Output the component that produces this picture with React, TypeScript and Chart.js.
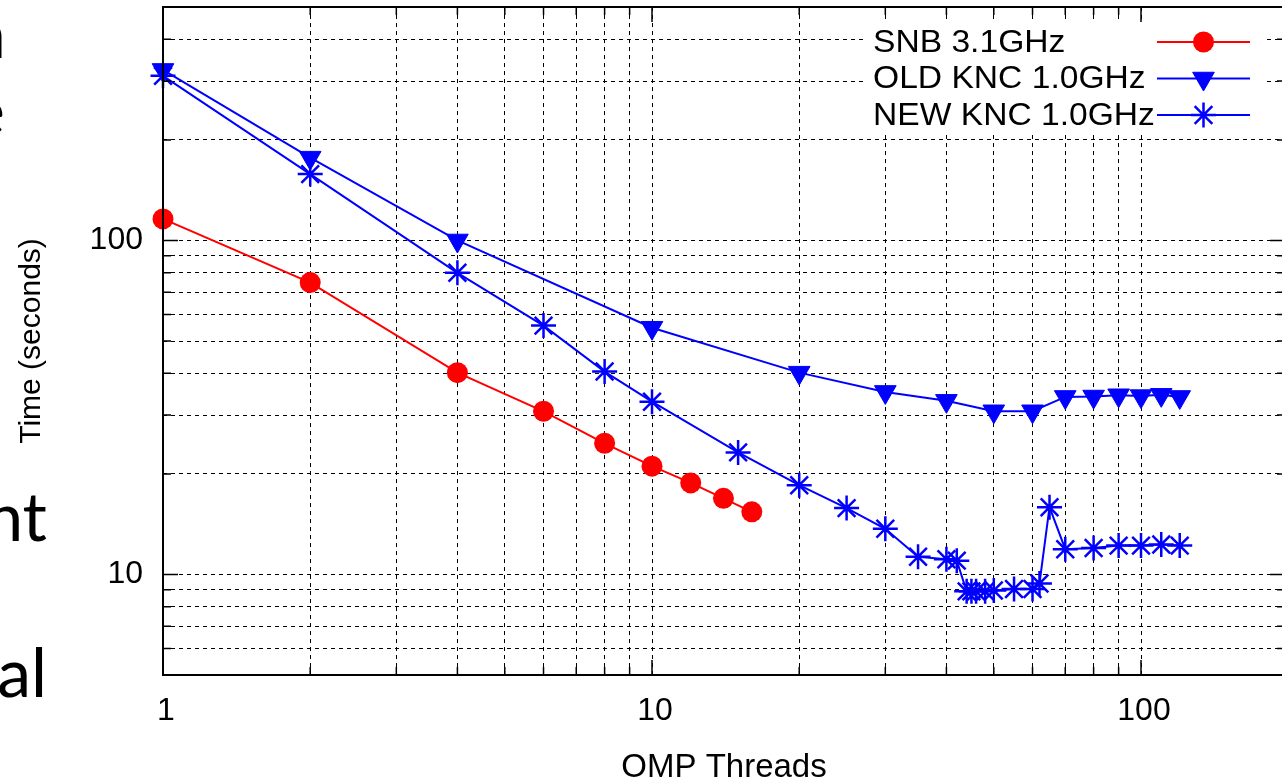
import React, { useEffect, useRef } from 'react';
import { Chart, registerables, PointElement } from 'chart.js';

Chart.register(...registerables);

// ---------- data ----------
const snbThreads = [1, 2, 4, 6, 8, 10, 12, 14, 16];
const snbTime = [116, 74.8, 40.2, 30.8, 24.7, 21.1, 18.8, 16.9, 15.4];

const oldThreads = [1, 2, 4, 10, 20, 30, 40, 50, 60, 70, 80, 90, 100, 110, 120];
const oldTime = [324, 177, 100, 54.8, 40.2, 35.2, 33.1, 30.8, 30.8, 34.0, 34.1, 34.4, 34.2, 34.5, 34.0];

const newThreads = [1, 2, 4, 6, 8, 10, 15, 20, 25, 30, 35, 40, 42, 44, 45, 46, 48, 50, 55, 60, 62, 65, 70, 80, 90, 100, 110, 120];
const newTime = [311, 158, 80, 55.6, 40.5, 32.9, 23.2, 18.5, 15.8, 13.7, 11.3, 11.1, 11.0, 8.9, 8.9, 8.9, 8.9, 8.95, 9.05, 9.05, 9.4, 15.9, 11.9, 12.0, 12.2, 12.2, 12.3, 12.2];

const seriesLabels = ['SNB 3.1GHz', 'OLD KNC 1.0GHz', 'NEW KNC 1.0GHz'];

const xMin = 1;
const xMax = 197;
const yMin = 5;
const yMax = 500;
const xTickValues = [1, 2, 3, 4, 5, 6, 7, 8, 9, 10, 20, 30, 40, 50, 60, 70, 80, 90, 100, 200];
const yTickValues = [5, 6, 7, 8, 9, 10, 20, 30, 40, 50, 60, 70, 80, 90, 100, 200, 300, 400, 500];
const xLabelValues = [1, 10, 100];
const yLabelValues = [10, 100];
const xTitle = 'OMP Threads';
const yTitle = 'Time (seconds)';

const slideFragments = ['n', 'e', 'nt', 'al'];

// ---------- style ----------
const RED = '#ff0000';
const BLUE = '#0000ff';
const FONT = "'Liberation Sans', Arial, sans-serif";

const toPoints = (xs: number[], ys: number[]) => xs.map((x, i) => ({ x, y: ys[i] }));

const zeroPadding = (scale: any) => {
  scale.paddingTop = 0;
  scale.paddingBottom = 0;
  scale.paddingLeft = 0;
  scale.paddingRight = 0;
};

const frameAndLegend = {
  id: 'frameAndLegend',
  afterDraw(chart: any) {
    const { ctx, chartArea } = chart;
    const { left, right, top, bottom } = chartArea;
    const xs = chart.scales.x;
    const ys = chart.scales.y;
    ctx.save();

    // legend background (covers grid)
    ctx.fillStyle = '#ffffff';
    ctx.fillRect(867, 23, 398, 112);

    // inward tick marks on all four sides
    ctx.strokeStyle = '#000000';
    ctx.setLineDash([]);
    ctx.lineWidth = 1.5;
    ctx.beginPath();
    xs.ticks.forEach((t: any) => {
      const len = xLabelValues.includes(t.value) ? 15 : 8;
      const px = xs.getPixelForValue(t.value);
      ctx.moveTo(px, bottom);
      ctx.lineTo(px, bottom - len);
      ctx.moveTo(px, top);
      ctx.lineTo(px, top + len);
    });
    ys.ticks.forEach((t: any) => {
      const len = yLabelValues.includes(t.value) ? 15 : 8;
      const py = ys.getPixelForValue(t.value);
      ctx.moveTo(left, py);
      ctx.lineTo(left + len, py);
      ctx.moveTo(right, py);
      ctx.lineTo(right - len, py);
    });
    ctx.stroke();

    // frame
    ctx.lineWidth = 2;
    ctx.strokeRect(left, top, right - left, bottom - top);

    // legend entries: text left, sample on the right (gnuplot style)
    chart.data.datasets.forEach((ds: any, i: number) => {
      const rowY = 42 + i * 36.5;
      ctx.save();
      ctx.translate(873, rowY);
      ctx.scale(1.05, 1);
      ctx.fillStyle = '#000000';
      ctx.font = `32px ${FONT}`;
      ctx.textAlign = 'left';
      ctx.textBaseline = 'middle';
      ctx.fillText(ds.label, 0, 1);
      ctx.restore();

      ctx.strokeStyle = ds.borderColor;
      ctx.lineWidth = ds.borderWidth;
      ctx.beginPath();
      ctx.moveTo(1157, rowY);
      ctx.lineTo(1250, rowY);
      ctx.stroke();

      const meta = chart.getDatasetMeta(i);
      const src = meta.data[0];
      if (src) {
        const el: any = new (PointElement as any)({ x: 1203.5, y: rowY, options: src.options });
        el.draw(ctx);
      }
    });

    ctx.restore();
  },
};

export default function App() {
  const ref = useRef<HTMLCanvasElement>(null);

  useEffect(() => {
    const canvas = ref.current;
    if (!canvas) return;
    const chart = new Chart(canvas, {
      type: 'line',
      data: {
        datasets: [
          {
            label: seriesLabels[0],
            data: toPoints(snbThreads, snbTime),
            borderColor: RED,
            backgroundColor: RED,
            borderWidth: 2,
            pointStyle: 'circle',
            pointRadius: 10.5,
            pointBorderWidth: 0,
            pointBackgroundColor: RED,
            pointBorderColor: RED,
            tension: 0,
            clip: false,
          },
          {
            label: seriesLabels[1],
            data: toPoints(oldThreads, oldTime),
            borderColor: BLUE,
            backgroundColor: BLUE,
            borderWidth: 2,
            pointStyle: 'triangle',
            pointRotation: 180,
            pointRadius: 12.5,
            pointBorderWidth: 1,
            pointBackgroundColor: BLUE,
            pointBorderColor: BLUE,
            tension: 0,
            clip: false,
          },
          {
            label: seriesLabels[2],
            data: toPoints(newThreads, newTime),
            borderColor: BLUE,
            backgroundColor: BLUE,
            borderWidth: 2,
            pointStyle: 'star',
            pointRadius: 12.5,
            pointBorderWidth: 2.5,
            pointBackgroundColor: BLUE,
            pointBorderColor: BLUE,
            tension: 0,
            clip: false,
          },
        ] as any,
      },
      options: {
        animation: false,
        responsive: false,
        devicePixelRatio: 1,
        events: [],
        layout: { autoPadding: false, padding: { left: 0, right: 1, top: 7, bottom: 0 } },
        plugins: {
          legend: { display: false },
          tooltip: { enabled: false },
        },
        scales: {
          x: {
            type: 'logarithmic',
            min: xMin,
            max: xMax,
            afterBuildTicks: (scale: any) => {
              scale.ticks = xTickValues
                .filter((v) => v >= xMin && v <= xMax)
                .map((v) => ({ value: v, major: xLabelValues.includes(v) }));
            },
            afterFit: (scale: any) => {
              scale.height = 107;
              zeroPadding(scale);
            },
            grid: { color: '#000000', lineWidth: 1, drawTicks: false },
            border: { display: false, dash: [4, 4] },
            ticks: {
              autoSkip: false,
              maxRotation: 0,
              minRotation: 0,
              padding: 17,
              labelOffset: 3,
              color: '#000000',
              font: { family: FONT, size: 32 },
              callback: (v: any) => (xLabelValues.includes(Number(v)) ? String(v) : ''),
            },
            title: {
              display: true,
              text: xTitle,
              color: '#000000',
              font: { family: FONT, size: 33, lineHeight: 0.85 },
              padding: { top: 0, bottom: 0 },
            },
          },
          y: {
            type: 'logarithmic',
            min: yMin,
            max: yMax,
            afterBuildTicks: (scale: any) => {
              scale.ticks = yTickValues
                .filter((v) => v >= yMin && v <= yMax)
                .map((v) => ({ value: v, major: yLabelValues.includes(v) }));
            },
            afterFit: (scale: any) => {
              scale.width = 163;
              zeroPadding(scale);
            },
            grid: { color: '#000000', lineWidth: 1, drawTicks: false },
            border: { display: false, dash: [4, 4] },
            ticks: {
              autoSkip: false,
              padding: 20,
              color: '#000000',
              font: { family: FONT, size: 32 },
              callback: (v: any) => (yLabelValues.includes(Number(v)) ? String(v) : ''),
            },
            title: {
              display: true,
              text: yTitle,
              color: '#000000',
              font: { family: FONT, size: 30, lineHeight: 1.2 },
              padding: { top: 13.5, bottom: 0 },
            },
          },
        },
      } as any,
      plugins: [frameAndLegend],
    });
    return () => chart.destroy();
  }, []);

  const fragStyle = { fontFamily: "Lato, 'Open Sans', sans-serif", fontSize: 68 };

  return (
    <div
      style={{
        position: 'fixed',
        left: 0,
        top: 0,
        width: 1282,
        height: 782,
        overflow: 'hidden',
        background: '#ffffff',
      }}
    >
      <svg
        width={1282}
        height={782}
        style={{ position: 'absolute', left: 0, top: 0, pointerEvents: 'none' }}
      >
        <text x={6} y={58} textAnchor="end" style={fragStyle} fill="#000">
          {slideFragments[0]}
        </text>
        <text x={5} y={135} textAnchor="end" style={fragStyle} fill="#000">
          {slideFragments[1]}
        </text>
        <text x={47} y={541} textAnchor="end" style={fragStyle} fill="#000">
          {slideFragments[2]}
        </text>
        <text x={47} y={697} textAnchor="end" style={fragStyle} fill="#000">
          {slideFragments[3]}
        </text>
      </svg>
      <canvas
        ref={ref}
        width={1286}
        height={782}
        style={{ position: 'absolute', left: 0, top: 0, width: 1286, height: 782, display: 'block' }}
      />
    </div>
  );
}
